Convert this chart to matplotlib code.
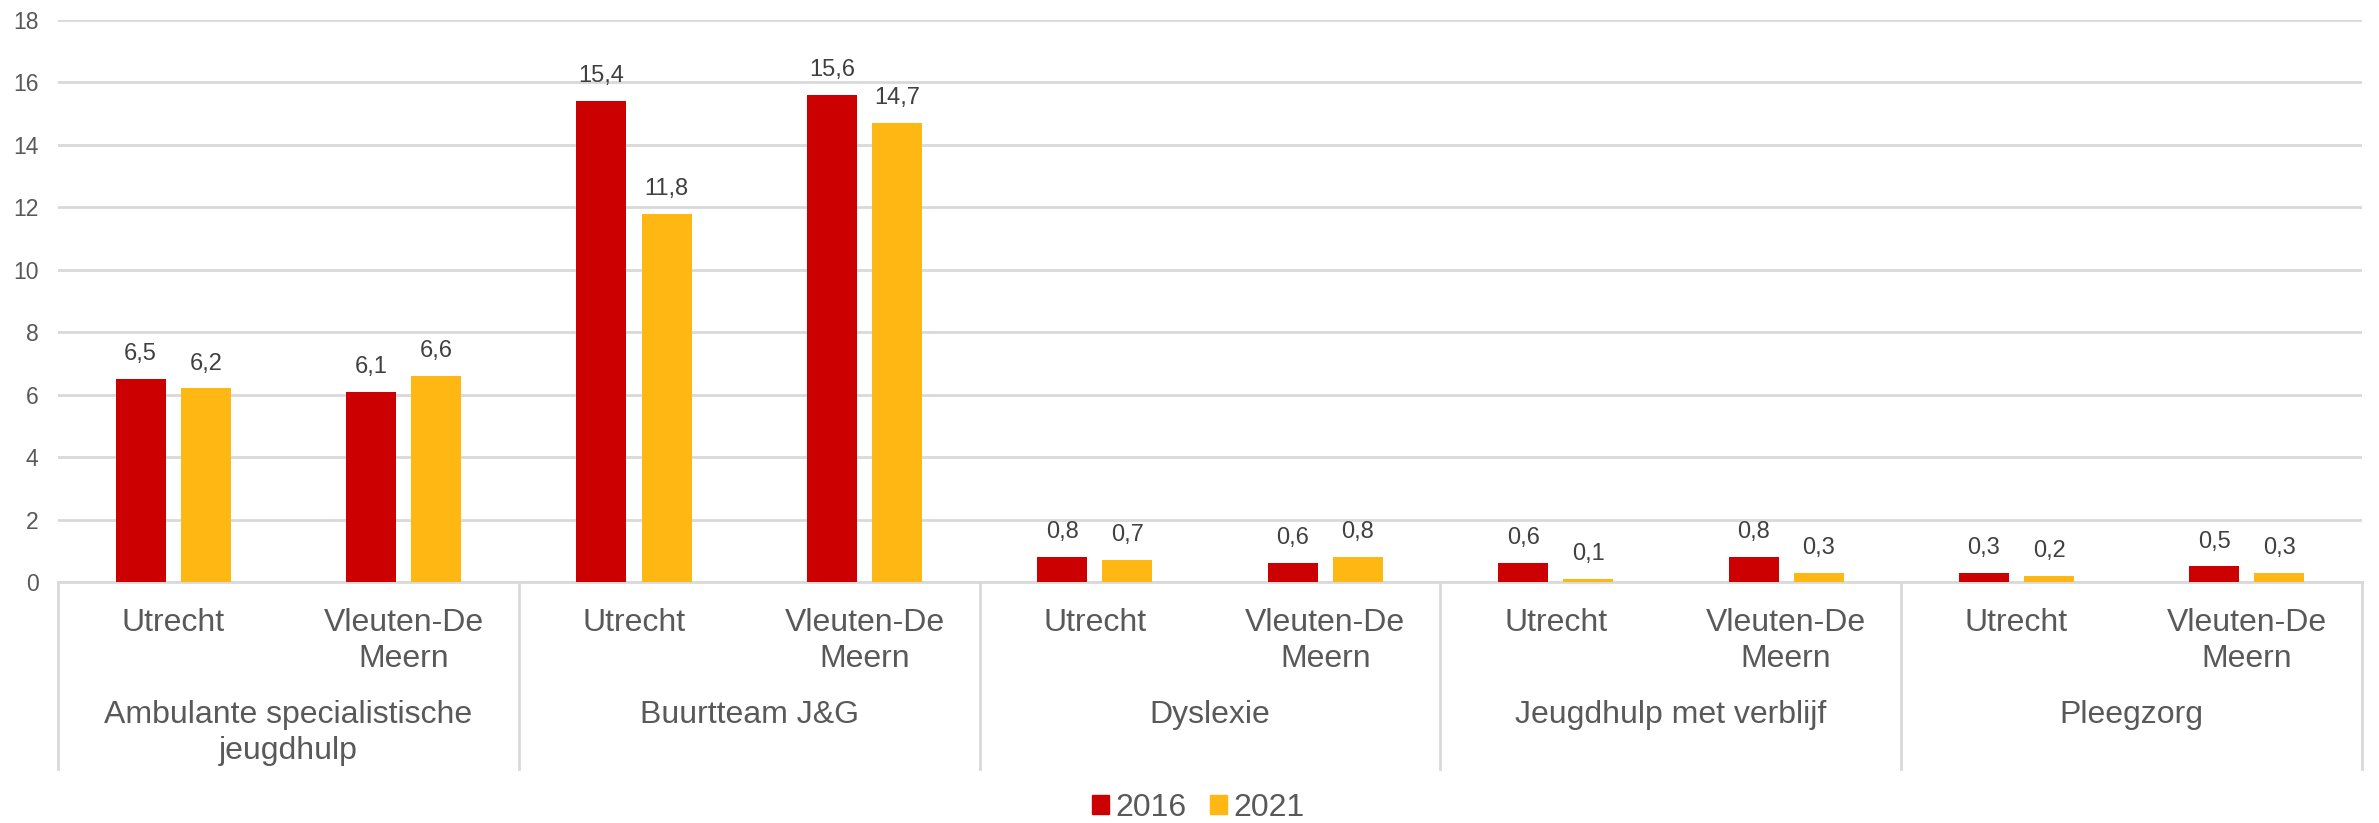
import numpy as np
import matplotlib
matplotlib.use("Agg")
import matplotlib.pyplot as plt
import matplotlib.transforms as mtransforms
from matplotlib.patches import Patch

plt.rcParams['font.family'] = ['Liberation Sans', 'DejaVu Sans']

groups = ["Ambulante specialistische\njeugdhulp", "Buurtteam J&G", "Dyslexie",
          "Jeugdhulp met verblijf", "Pleegzorg"]
areas = ["Utrecht", "Vleuten-De\nMeern"]
vals_2016 = [6.5, 6.1, 15.4, 15.6, 0.8, 0.6, 0.6, 0.8, 0.3, 0.5]
vals_2021 = [6.2, 6.6, 11.8, 14.7, 0.7, 0.8, 0.1, 0.3, 0.2, 0.3]
years = ["2016", "2021"]
colors = ["#CC0000", "#FFB713"]

txt = "#595959"
grid = "#D9D9D9"

fig = plt.figure(figsize=(23.79, 8.23), dpi=100)
ax = fig.add_axes([0.0244, 0.2928, 0.9685, 0.6829])

n = len(vals_2016)
x = np.arange(n)
w = 0.217
off = 0.1414
b1 = ax.bar(x - off, vals_2016, w, color=colors[0], zorder=3)
b2 = ax.bar(x + off, vals_2021, w, color=colors[1], zorder=3)

for bars, vals in ((b1, vals_2016), (b2, vals_2021)):
    for bar, v in zip(bars, vals):
        ax.annotate(f"{v:.1f}".replace(".", ","),
                    (bar.get_x() + bar.get_width() / 2, v),
                    xytext=(0, 10), textcoords="offset points",
                    ha="center", va="bottom", fontsize=17, color="#404040")

ax.set_xlim(-0.5, n - 0.5)
ax.set_ylim(0, 18)
ax.set_yticks(np.arange(0, 19, 2))
ax.tick_params(axis="y", length=0, labelsize=16.5, labelcolor=txt, pad=14)
ax.set_xticks([])
ax.yaxis.grid(True, color=grid, linewidth=2)
ax.set_axisbelow(True)
for s in ["top", "right", "left"]:
    ax.spines[s].set_visible(False)
ax.spines["bottom"].set_color(grid)
ax.spines["bottom"].set_linewidth(2)

trans = mtransforms.blended_transform_factory(ax.transData, ax.transAxes)
for i in range(n):
    ax.text(i, -0.047, areas[i % 2], transform=trans, ha="center", va="top",
            fontsize=23, color=txt, linespacing=1.25)
for g, name in enumerate(groups):
    ax.text(2 * g + 0.5, -0.21, name, transform=trans, ha="center", va="top",
            fontsize=23, color=txt, linespacing=1.25)
for k in range(len(groups) + 1):
    ax.plot([2 * k - 0.5, 2 * k - 0.5], [0, -0.333], transform=trans,
            color=grid, linewidth=2, clip_on=False)

handles = [Patch(color=c, label=y) for c, y in zip(colors, years)]
fig.legend(handles=handles, loc="center", bbox_to_anchor=(0.5036, 0.018),
           ncol=2, frameon=False, fontsize=23, labelcolor=txt,
           handlelength=0.53, handleheight=0.53, handletextpad=0.2,
           columnspacing=0.75)

fig.savefig("out.png", dpi=100)
